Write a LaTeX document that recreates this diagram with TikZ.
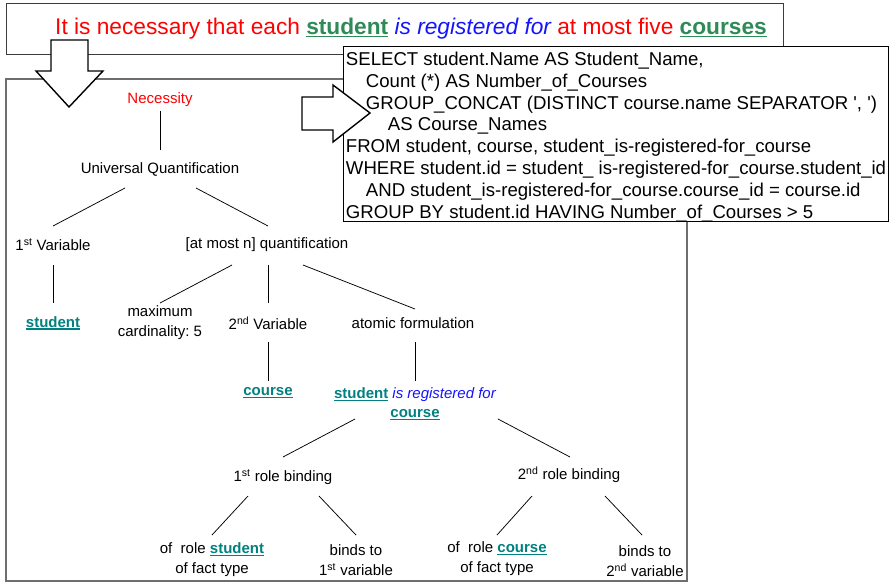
\documentclass[tikz,border=0pt]{standalone}
\usepackage{fontspec}
\setmainfont{Liberation Sans}
\usetikzlibrary{calc}

\definecolor{necred}{RGB}{255,0,0}
\definecolor{termgreen}{RGB}{46,139,87}
\definecolor{termteal}{RGB}{0,128,128}
\definecolor{verbblue}{RGB}{20,20,255}

% bold term with a thick underline in the current colour
\newcommand{\ulterm}[1]{\leavevmode\setbox0\hbox{\textbf{#1}}\rlap{\rule[-2.4pt]{\wd0}{1.3pt}}\box0}

\tikzset{
  lbl/.style={align=center, inner sep=0.75pt, font=\fontsize{15}{20}\selectfont},
  edge/.style={line width=0.75},
  blockarrow/.style={draw, fill=white, line width=1.4, line join=miter},
}

\frenchspacing
\begin{document}
\begin{tikzpicture}[x=1pt,y=1pt,yscale=-1]
    \useasboundingbox (0,0) rectangle (891,584);

        % frames
        \draw [color={rgb, 255:red, 60; green, 60; blue, 60}, line width=0.9] (6,3) rectangle (783,54);
        \draw [color={rgb, 255:red, 110; green, 110; blue, 110}, line width=1.4] (6,79) rectangle (687,581);
        \draw [fill=white, line width=0.9] (343,46) rectangle (888,221);

        \node [font=\fontsize{22.7}{26}\selectfont, text=necred, inner sep=0.75pt] (title) at (411,29)
          {It is necessary that each \textcolor{termgreen}{\ulterm{student}} \textcolor{verbblue}{\itshape is registered for} at most five \textcolor{termgreen}{\ulterm{courses}}};

        \node [anchor=north west, align=left, inner sep=0.75pt, font=\fontsize{18.6}{21.8}\selectfont] (sql) at (345,51) {%
          SELECT student.Name AS Student\_Name,\\
          \hspace*{20pt}Count (*) AS Number\_of\_Courses\\
          \hspace*{20pt}GROUP\_CONCAT (DISTINCT course.name SEPARATOR \textquotesingle, \textquotesingle)\\
          \hspace*{42pt}AS Course\_Names\\
          FROM student, course, student\_is-registered-for\_course\\
          WHERE student.id = student\_ is-registered-for\_course.student\_id\\
          \hspace*{20pt}AND student\_is-registered-for\_course.course\_id = course.id\\
          GROUP BY student.id HAVING Number\_of\_Courses > 5};

        % block arrows
        \draw [blockarrow] (51,40) -- (88,40) -- (88,71) -- (103,71) -- (69,107) -- (36,71) -- (51,71) -- cycle;
        \draw [blockarrow] (302,97) -- (333,97) -- (333,85) -- (370,113) -- (333,142) -- (333,130) -- (302,130) -- cycle;

        % tree
        \node [lbl, text=necred] (nec) at (160,100) {Necessity};
        \node [lbl] (uq) at (160,169) {Universal Quantification};
        \node [lbl] (var1) at (53,245) {1\textsuperscript{st} Variable};
        \node [lbl] (amn) at (267,245) {[at most n] quantification};
        \node [lbl, text=termteal] (stu1) at (53,323) {\ulterm{student}};
        \node [lbl] (maxc) at (160,323) {maximum\\cardinality: 5};
        \node [lbl] (var2) at (268,323) {2\textsuperscript{nd} Variable};
        \node [lbl] (atom) at (413,323) {atomic formulation};
        \node [lbl, text=termteal] (crs1) at (268,393) {\ulterm{course}};
        \node [lbl, font=\fontsize{15}{19}\selectfont] (fact) at (415,404)
          {\textcolor{termteal}{\ulterm{student}} \textcolor{verbblue}{\itshape is registered for}\\\textcolor{termteal}{\ulterm{course}}};
        \node [lbl] (rb1) at (283,477) {1\textsuperscript{st} role binding};
        \node [lbl] (rb2) at (569,475) {2\textsuperscript{nd} role binding};
        \node [lbl] (ofr1) at (212,560) {of \ role \textcolor{termteal}{\ulterm{student}}\\of fact type};
        \node [lbl] (bnd1) at (356,560) {binds to\\1\textsuperscript{st} variable};
        \node [lbl] (ofr2) at (497,559) {of \ role \textcolor{termteal}{\ulterm{course}}\\of fact type};
        \node [lbl] (bnd2) at (645,561) {binds to\\2\textsuperscript{nd} variable};

        \draw [edge] ($(nec)+(0,11)$) -- ($(uq)+(0,-19)$);
        \draw [edge] ($(uq)+(-35,19)$) -- ($(var1)+(0,-19)$);
        \draw [edge] ($(uq)+(36,19)$) -- ($(amn)+(1,-19)$);
        \draw [edge] ($(var1)+(0,20)$) -- ($(stu1)+(0,-20)$);
        \draw [edge] ($(amn)+(-35,20)$) -- ($(maxc)+(0,-20)$);
        \draw [edge] ($(amn)+(1,20)$) -- ($(var2)+(0,-20)$);
        \draw [edge] ($(amn)+(36,20)$) -- ($(atom)+(2,-14)$);
        \draw [edge] ($(var2)+(0,19)$) -- ($(crs1)+(0,-12)$);
        \draw [edge] ($(atom)+(2,19)$) -- ($(fact)+(0,-23)$);
        \draw [edge] ($(fact)+(-60,15)$) -- ($(rb1)+(0,-20)$);
        \draw [edge] ($(fact)+(83,15)$) -- ($(rb2)+(1,-18)$);
        \draw [edge] ($(rb1)+(-35,19)$) -- ($(ofr1)+(0,-25)$);
        \draw [edge] ($(rb1)+(36,19)$) -- ($(bnd1)+(0,-25)$);
        \draw [edge] ($(rb2)+(-37,21)$) -- ($(ofr2)+(0,-24)$);
        \draw [edge] ($(rb2)+(36,21)$) -- ($(bnd2)+(-3,-26)$);
\end{tikzpicture}
\end{document}
